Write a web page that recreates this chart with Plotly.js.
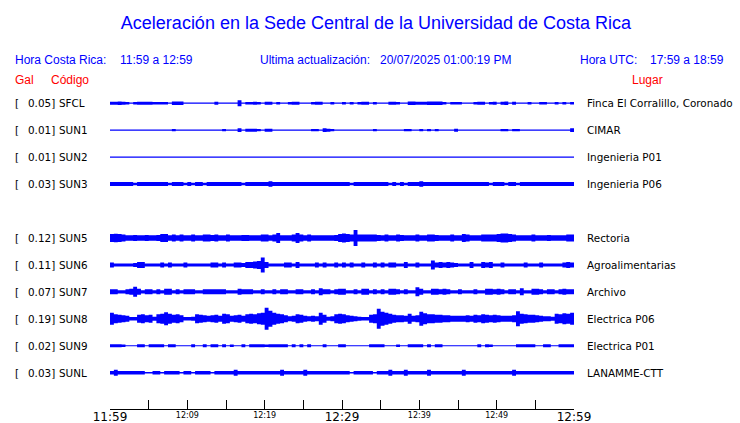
<!DOCTYPE html>
<html><head><meta charset="utf-8">
<script src="https://cdn.plot.ly/plotly-3.0.1.min.js"></script>
<style>html,body{margin:0;padding:0;background:#fff}#chart{width:740px;height:423px}</style>
</head><body><div id="chart"></div>
<script>
// ---------- data ----------
const codes  = ['SFCL','SUN1','SUN2','SUN3','SUN5','SUN6','SUN7','SUN8','SUN9','SUNL'];
const galMax = ['0.05','0.01','0.01','0.03','0.12','0.11','0.07','0.19','0.02','0.03'];
const places = ['Finca El Corralillo, Coronado','CIMAR','Ingenieria P01','Ingenieria P06',
                'Rectoria','Agroalimentarias','Archivo','Electrica P06','Electrica P01','LANAMME-CTT'];
const rowSlots = [0,1,2,3,5,6,7,8,9,10];          // slot 4 is an empty row
const tickMinutes  = [0,5,10,15,20,25,30,35,40,45,50,55,60];
const majorTickVals = [0,30,60];
const majorTickText = ['11:59','12:29','12:59'];
const minorTickVals = [10,20,40,50];
const minorTickText = ['12:09','12:19','12:39','12:49'];
const sampleStepMin = 0.5;   // envelope sampled every 30 s, 11:59 -> 12:59

// half-amplitude envelopes (trace half-height), one value per 30 s
const env_SFCL = [1.5,1.5,1.8,1.5,1.2,0.6,1.2,1.5,1.5,1.5, 1.5,1.2,1.2,1.2,1.2,0.6,1.8,1.8,1.8,0.6,
  0.6,0.6,0.6,0.6,0.6,0.6,0.6,1.5,0.6,0.6, 0.6,0.6,0.6,3.0,0.6,1.2,1.2,1.5,1.2,0.6,
  1.5,1.5,0.6,1.2,0.6,0.6,1.2,1.5,1.5,0.6, 0.6,0.6,1.2,1.5,1.5,0.6,0.6,1.2,0.6,0.6,
  1.2,0.6,1.2,0.6,1.2,1.5,1.5,0.6,1.2,0.6, 0.6,0.6,1.5,1.5,1.2,0.6,0.6,1.8,1.8,1.5,
  1.5,1.5,1.8,1.8,1.8,1.8,1.2,0.6,1.2,1.2, 1.2,0.6,0.6,0.6,1.2,1.5,1.5,0.6,1.2,1.5,
  0.6,1.5,1.8,0.6,1.5,0.6,0.6,0.6,1.2,0.6, 0.6,1.2,1.2,0.6,0.6,1.2,0.6,1.2,0.6,1.2,0.6];
const env_SUN1 = [0.6,0.6,0.6,0.6,0.6,0.6,0.6,0.6,0.6,0.6, 0.6,0.6,0.6,0.6,0.6,0.6,1.2,0.6,0.6,0.6,
  0.6,0.6,0.6,0.6,0.6,0.6,0.6,0.6,0.6,1.2, 0.6,0.6,0.6,1.8,0.6,1.5,1.5,1.5,1.2,0.6,
  1.5,1.5,0.6,0.6,0.6,0.6,0.6,0.6,0.6,0.6, 0.6,0.6,1.2,1.2,0.6,1.8,1.5,1.2,0.6,0.6,
  0.6,0.6,0.6,0.6,0.6,0.6,0.6,0.6,1.2,0.6, 0.6,0.6,0.6,0.6,0.6,0.6,1.2,1.2,0.6,0.6,
  1.2,0.6,1.2,0.6,1.2,0.6,0.6,0.6,0.6,1.5, 0.6,0.6,0.6,0.6,0.6,0.6,0.6,0.6,0.6,0.6,
  0.6,1.2,1.2,0.6,1.2,1.2,0.6,0.6,0.6,0.6, 0.6,0.6,0.6,0.6,0.6,0.6,0.6,0.6,0.6,1.8,0.6];
const env_SUN2 = [0.6,0.6,0.6,0.6,0.6,0.6,0.6,0.6,0.6,0.6, 0.6,0.6,0.6,0.6,0.6,0.6,0.6,0.6,0.6,0.6,
  0.6,0.6,0.6,0.6,0.6,0.6,0.6,0.6,0.6,0.6, 0.6,0.6,0.6,0.6,0.6,0.6,0.6,0.6,0.6,0.6,
  0.6,0.6,0.6,0.6,0.6,0.6,0.6,0.6,0.6,0.6, 0.6,0.6,0.6,0.6,0.6,0.6,0.6,0.6,0.6,0.6,
  0.6,0.6,0.6,0.6,0.6,0.6,0.6,0.6,0.6,0.6, 0.6,0.6,0.6,0.6,0.6,0.6,0.6,0.6,0.6,0.6,
  0.6,0.6,0.6,0.6,0.6,0.6,0.6,0.6,0.6,0.6, 0.6,0.6,0.6,0.6,0.6,0.6,0.6,0.6,0.6,0.6,
  0.6,0.6,0.6,0.6,0.6,0.6,0.6,0.6,0.6,0.6, 0.6,0.6,0.6,0.6,0.6,0.6,0.6,0.6,0.6,0.6,0.6];
const env_SUN3 = [2,2,2,2,2,2,1.2,2,2,2, 2,2,2,2,2,1.2,2,2,2,1.2,
  2,1.2,2,2,1.2,2,2,2,2,2, 2,2,2,2,1.2,2,2,2,2,2,
  2,2.8,2,2,2,2,2,2,2,2, 2,2,2,2,2,2,2,2,2,2,
  2,2,1.2,2,2,2,2,2,2,2, 2,2,1.2,2,1.2,2,1.2,2,2,2,
  2.7,2,2,2,2,2,2,2,2,2, 2,2,2,2,2,2,2,2,1.2,2,
  2,2,1.2,2,2,1.2,2,2,2,2, 2,2,2,2,2,2,2,2,2,2,2];
const env_SUN5 = [4,4.3,4,3.5,2.7,2.7,3,2.7,2.7,3, 2.7,2.7,3,4,4,2.7,3.5,2.7,3.5,2.7,
  2.7,3.5,2.7,2.7,3.5,3.5,3,3.5,2.7,2.7, 3.5,2.7,2.7,2.7,3,3,2.7,2.7,2.7,3.5,
  3.5,2.7,3.5,5,2.7,2.7,2.7,3.5,5,3.5, 2.7,3.5,2.7,2.7,2.7,2.7,2.7,2.7,3,4,
  4.5,4,3.5,8,3.5,3.5,3.5,3.5,3.5,3, 2.7,3.5,2.7,2.7,3.5,3,2.7,2.7,2.7,3.5,
  2.7,2.7,3.5,3.5,3,2.7,2.7,2.7,3.5,2.7, 2.7,4,3.5,2.7,2.7,2.7,3.5,3.5,3.5,3.5,
  4,4.5,4.5,4,3.5,2.7,2.7,2.7,2.7,3.5, 2.7,2.7,2.7,3,2.7,2.7,2.7,2.7,3.5,3.5,4];
const env_SUN6 = [2.5,1.5,1.5,1.5,1.5,1.5,2,3,3,1.5, 1.5,1.5,1.5,2.5,1.5,2.5,1.5,1.5,1.5,2.5,
  1.5,1.5,1.5,1.5,1.5,1.5,2.5,2.5,1.5,2.5, 1.5,1.5,2.5,2.5,2,3,3,3.5,4,7.5,
  3,1.5,1.5,1.5,1.5,2.5,2.5,1.5,3,1.5, 1.5,1.5,1.5,2.5,1.5,2.5,1.5,1.5,2.5,1.5,
  2.5,1.5,2.5,1.5,1.5,2.5,1.5,1.5,2.5,1.5, 2.5,1.5,2.5,2.5,1.5,1.5,3,1.5,1.5,2.5,
  1.5,1.5,1.5,4.5,2.5,3,2.5,3,2.5,2, 1.5,1.5,1.5,3,1.5,1.5,3,2.5,3,1.5,
  1.5,2.5,1.5,1.5,1.5,1.5,1.5,2.5,1.5,1.5, 1.5,2.5,1.5,1.5,1.5,1.5,1.5,2.5,3,2.5,3];
const env_SUN7 = [2.5,2.5,1.7,1.7,2.5,3,5,3,1.7,2.5, 2.5,1.7,2.5,1.7,3,3,1.7,2.5,1.7,2.5,
  2.5,2.5,1.7,1.7,2.5,2.5,2.5,2.5,2.5,2.5, 1.7,1.7,1.7,3,2.5,2.5,2.5,1.7,1.7,2.5,
  1.7,1.7,2.5,1.7,2.5,2.5,1.7,1.7,2.5,2.5, 1.7,1.7,2.5,1.7,3.5,2.5,2.5,1.7,2.5,3,
  3,1.7,1.7,2.5,1.7,3,3,1.7,2.5,1.7, 2.5,1.7,3,3,2.5,1.7,2.5,1.7,1.7,4.5,
  3,1.7,1.7,3,3,2.5,3,2.5,1.7,1.7, 2.5,1.7,1.7,1.7,2.5,1.7,1.7,3,3,2.5,
  3,2.5,1.7,2.5,2.5,1.7,3.5,1.7,1.7,3, 3,2.5,1.7,2.5,2.5,1.7,2.5,3,2.5,2.5,3];
const env_SUN8 = [6,4.5,4,3.5,3,1.7,1.7,4,4.5,3.5, 4,2,4.5,5,6.5,5,4,4.5,3.5,1.7,
  1.7,2,4.5,4,3.5,3,3.5,4,3,5, 4.5,3,3.5,4,3,4.5,5,4.5,5.5,6,
  11,8,6,5,4.5,3.5,2.5,3,4.5,4, 3,2.5,3,2.5,6,4,2,2.5,4.5,5,
  4.5,3.5,3,2.5,2,1.7,1.7,4,4.5,10, 7,6,5,4,3.5,3.5,3,5,3,3.5,
  7,5.5,4.5,4.5,4,4,3.5,3.5,3,3, 3,3,3.5,3,4,3.5,4.5,4,3.5,4,
  3.5,3,3,3,3.5,7.5,5,4.5,4,4, 3.5,3,2.5,2.5,2,5,4.5,5.5,5,6,4];
const env_SUN9 = [1.5,1.5,1.5,1.2,0.6,0.6,0.6,1.5,1.5,0.6, 1.5,1.5,1.5,1.5,0.6,1.5,1.5,0.6,0.6,0.6,
  0.6,1.5,0.6,0.6,1.5,0.6,1.5,1.5,0.6,1.5, 0.6,1.2,0.6,0.6,1.5,0.6,1.5,1.5,1.5,1.5,
  1.2,1.5,1.5,1.5,1.5,1.5,0.6,1.5,0.6,1.5, 0.6,1.5,0.6,0.6,0.6,1.5,0.6,0.6,0.6,1.5,
  1.5,0.6,0.6,0.6,0.6,0.6,0.6,1.5,1.5,1.5, 1.5,0.6,0.6,0.6,1.2,0.6,0.6,1.5,1.5,1.5,
  1.5,0.6,1.5,0.6,1.5,1.5,0.6,0.6,0.6,0.6, 0.6,0.6,0.6,0.6,0.6,1.5,0.6,1.5,1.2,0.6,
  0.6,0.6,0.6,0.6,0.6,1.5,1.5,1.5,1.5,1.5, 0.6,0.6,1.5,1.5,0.6,0.6,1.5,1.5,1.5,1.5,1.5];
const env_SUNL = [1.8,3,1.8,1.8,1.8,1.8,1.8,1.8,1.8,0.7, 0.7,1.8,1.8,0.7,1.8,1.8,1.8,1.8,0.7,1.8,
  1.8,0.7,1.8,1.8,1.8,1.8,0.7,1.8,1.8,1.8, 1.8,1.8,3,1.8,1.8,1.8,1.8,1.8,1.8,1.8,
  1.8,1.8,1.8,1.8,3,1.8,1.8,1.8,1.8,1.8, 3,1.8,1.8,1.8,1.8,1.8,1.8,1.8,1.8,1.8,
  1.8,1.8,0.7,1.8,1.8,1.8,1.8,1.8,0.7,1.8, 1.8,1.8,3,1.8,1.8,1.8,3,1.8,1.8,1.8,
  1.8,1.8,3,1.8,1.8,1.8,1.8,1.8,1.8,1.8, 1.8,3,1.8,1.8,1.8,1.8,1.8,1.8,1.8,1.8,
  1.8,1.8,1.8,1.8,3,1.8,1.8,1.8,1.8,1.8, 1.8,1.8,1.8,1.8,1.8,1.8,1.8,1.8,1.8,1.8,3];
const envelopes = [env_SFCL,env_SUN1,env_SUN2,env_SUN3,env_SUN5,env_SUN6,env_SUN7,env_SUN8,env_SUN9,env_SUNL];

// ---------- layout constants ----------
const W = 740, H = 423;
const PL = 110, PR = 574, PT = 88, PB = 409;     // plot area in pixels
const ROW0 = 103.2, ROWGAP = 26.95;               // pixel centre of first row, row spacing
const BLUE = '#0000ff', RED = '#ff0000';
const px2paperX = px => (px - PL) / (PR - PL);
const py2paperY = py => (PB - py) / (PB - PT);

const traces = [];
envelopes.forEach((env, k) => {
  const centre = rowSlots[k] * ROWGAP;
  const xs = env.map((_, i) => i * sampleStepMin);
  traces.push({x: xs, y: env.map(a => centre - a), mode: 'lines', line: {width: 0, shape: 'hv', color: BLUE},
               hoverinfo: 'skip', showlegend: false});
  traces.push({x: xs, y: env.map(a => centre + a), mode: 'lines', line: {width: 0, shape: 'hv', color: BLUE},
               fill: 'tonexty', fillcolor: BLUE, hoverinfo: 'skip', showlegend: false});
});
// carrier for the second (minor-label) time axis
traces.push({x: [0, 60], y: [null, null], xaxis: 'x2', yaxis: 'y', mode: 'lines', hoverinfo: 'skip', showlegend: false});

const hdrFont = (c) => ({family: 'Liberation Sans, Arial, sans-serif', size: 12, color: c});
const lblFont = {family: 'DejaVu Sans, sans-serif', size: 10.4, color: '#000'};
const ann = (text, px, py, xanchor, font) => ({text, x: px2paperX(px), y: py2paperY(py), xref: 'paper', yref: 'paper',
  xanchor, yanchor: 'middle', showarrow: false, font, borderpad: 0, borderwidth: 0});

const annotations = [
  ann('Hora Costa Rica:', 15, 60, 'left', hdrFont(BLUE)),
  ann('11:59 a 12:59', 120, 60, 'left', hdrFont(BLUE)),
  ann('Ultima actualización:', 260, 60, 'left', hdrFont(BLUE)),
  ann('20/07/2025 01:00:19 PM', 380, 60, 'left', hdrFont(BLUE)),
  ann('Hora UTC:', 580, 60, 'left', hdrFont(BLUE)),
  ann('17:59 a 18:59', 650, 60, 'left', hdrFont(BLUE)),
  ann('Gal', 15, 80, 'left', hdrFont(RED)),
  ann('Código', 51, 80, 'left', hdrFont(RED)),
  ann('Lugar', 632, 80, 'left', hdrFont(RED))
];
codes.forEach((c, k) => {
  const py = ROW0 + rowSlots[k] * ROWGAP;
  annotations.push(ann('[', 15, py, 'left', lblFont));
  annotations.push(ann(galMax[k] + ']', 55, py, 'right', lblFont));
  annotations.push(ann(c, 58.5, py, 'left', lblFont));
  annotations.push(ann(places[k], 587, py, 'left', lblFont));
});

const layout = {
  width: W, height: H,
  margin: {l: PL, r: W - PR, t: PT, b: H - PB, pad: 0},
  paper_bgcolor: '#fff', plot_bgcolor: '#fff',
  showlegend: false, hovermode: false,
  title: {text: 'Aceleración en la Sede Central de la Universidad de Costa Rica',
          font: {family: 'Liberation Sans, Arial, sans-serif', size: 18, color: BLUE},
          xref: 'container', yref: 'container', x: 376 / W, y: 1 - 23 / H, xanchor: 'center', yanchor: 'middle'},
  xaxis: {range: [0, 60], tickmode: 'array', tickvals: tickMinutes,
          ticktext: tickMinutes.map(m => { const j = majorTickVals.indexOf(m); return j >= 0 ? majorTickText[j] : ''; }),
          ticks: 'inside', ticklen: 9, tickwidth: 1, tickcolor: '#000', ticklabelstandoff: -3,
          showline: true, linecolor: '#000', linewidth: 1, showgrid: false, zeroline: false,
          tickfont: {family: 'DejaVu Sans, sans-serif', size: 12, color: '#000'}, fixedrange: true},
  xaxis2: {range: [0, 60], overlaying: 'x', anchor: 'y', side: 'bottom', tickmode: 'array',
           tickvals: minorTickVals, ticktext: minorTickText, ticks: '', showline: false, showgrid: false, zeroline: false,
           tickfont: {family: 'DejaVu Sans, sans-serif', size: 8, color: '#000'}, fixedrange: true},
  yaxis: {range: [PB - ROW0, PT - ROW0], visible: false, showgrid: false, zeroline: false, fixedrange: true},
  annotations
};

Plotly.newPlot('chart', traces, layout, {staticPlot: true, displayModeBar: false});
</script>
</body></html>
